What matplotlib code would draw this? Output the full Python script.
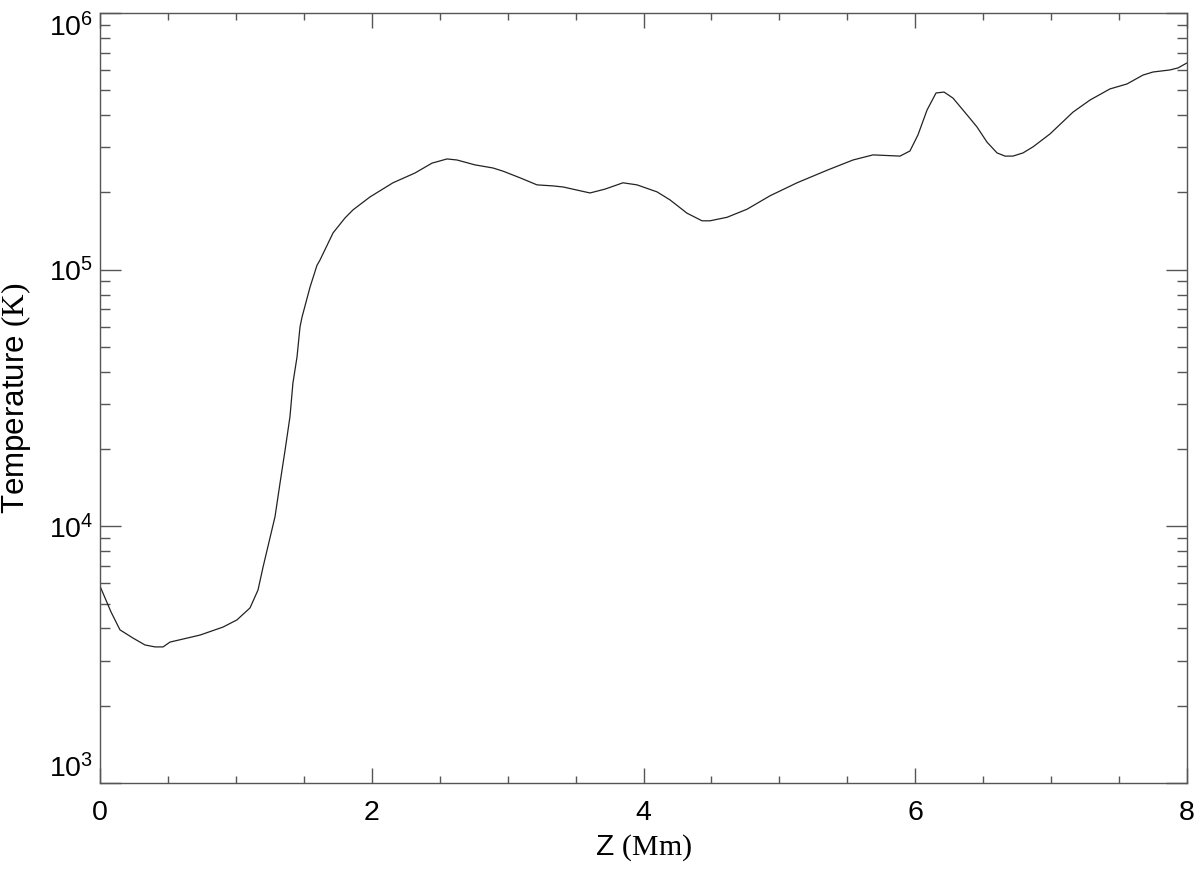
import matplotlib
matplotlib.use("Agg")
from matplotlib import pyplot as plt
from matplotlib.ticker import MultipleLocator, LogLocator, NullFormatter

# height (Mm) and temperature (K)
z = [0.000, 0.081, 0.147, 0.243, 0.331, 0.405, 0.464, 0.515, 0.736, 0.905,
     1.008, 1.104, 1.163, 1.200, 1.288, 1.325, 1.362, 1.398, 1.420, 1.450,
     1.472, 1.487, 1.546, 1.597, 1.619, 1.715, 1.803, 1.862, 1.987, 2.156,
     2.318, 2.443, 2.554, 2.627, 2.760, 2.892, 2.966, 3.091, 3.216, 3.334,
     3.408, 3.606, 3.717, 3.849, 3.952, 4.099, 4.195, 4.320, 4.431, 4.489,
     4.615, 4.762, 4.931, 5.130, 5.351, 5.542, 5.689, 5.888, 5.961, 6.020,
     6.087, 6.153, 6.212, 6.278, 6.381, 6.454, 6.528, 6.602, 6.661, 6.719,
     6.793, 6.867, 6.992, 7.161, 7.286, 7.433, 7.558, 7.676, 7.750, 7.875,
     7.934, 8.000]
temp = [5850, 4640, 3950, 3670, 3450, 3390, 3390, 3540, 3770, 4050,
        4320, 4810, 5650, 6940, 10900, 14750, 19800, 26700, 36200, 45700,
        59800, 65400, 85600, 104000, 109000, 139000, 159000, 171000, 192000, 218000,
        238000, 260000, 270000, 267500, 256000, 249000, 242000, 228000, 214000, 212000,
        210000, 199000, 206000, 218000, 214000, 201000, 187000, 166000, 155000, 155000,
        160000, 172000, 194000, 218000, 244000, 267500, 280000, 277000, 290000, 335000,
        419000, 488000, 492000, 466000, 401000, 360000, 314000, 285000, 277000, 277000,
        285000, 301000, 338000, 411000, 458000, 506000, 529000, 573000, 589000, 600000,
        611000, 639000]

plt.rcParams['font.family'] = ['Liberation Sans', 'DejaVu Sans']
plt.rcParams['mathtext.fontset'] = 'custom'
plt.rcParams['mathtext.rm'] = 'Liberation Serif'

fig = plt.figure(figsize=(12, 8.69), dpi=100)
ax = fig.add_axes([100/1200, 1 - 783/869, 1087/1200, 770/869])

ax.plot(z, temp, color='#222222', lw=0.9)

ax.set_yscale('log')
ax.set_xlim(0, 8)
ax.set_ylim(1e3, 1e6)

edge = '#555555'
for s in ax.spines.values():
    s.set_color(edge)
    s.set_linewidth(1.0)

ax.xaxis.set_major_locator(MultipleLocator(2))
ax.xaxis.set_minor_locator(MultipleLocator(0.5))
ax.yaxis.set_major_locator(LogLocator(base=10, numticks=10))
ax.yaxis.set_minor_locator(LogLocator(base=10, subs=range(2, 10), numticks=20))
ax.yaxis.set_minor_formatter(NullFormatter())

ax.tick_params(which='both', direction='in', top=True, right=True, colors=edge,
               labelcolor='black', labelsize=20.5)
ax.tick_params(axis='x', which='major', length=10.8, width=1.0, pad=12)
ax.tick_params(axis='x', which='minor', length=5, width=1.0)
ax.tick_params(axis='y', which='major', length=15, width=1.0, pad=5)
ax.tick_params(axis='y', which='minor', length=7.5, width=1.0)

ax.set_xlabel(r'Z $\mathrm{(Mm)}$', fontsize=21.5, labelpad=5)
ax.set_ylabel(r'Temperature $\mathrm{(K)}$', fontsize=22.5)
ax.yaxis.set_label_coords(-0.0615, 0.5)

fig.canvas.draw()
for lab in ax.get_yticklabels():
    if '{3}' in lab.get_text():
        lab.set_va('bottom')
    elif '{6}' in lab.get_text():
        lab.set_va('top')

fig.savefig('out.png', dpi=100)
